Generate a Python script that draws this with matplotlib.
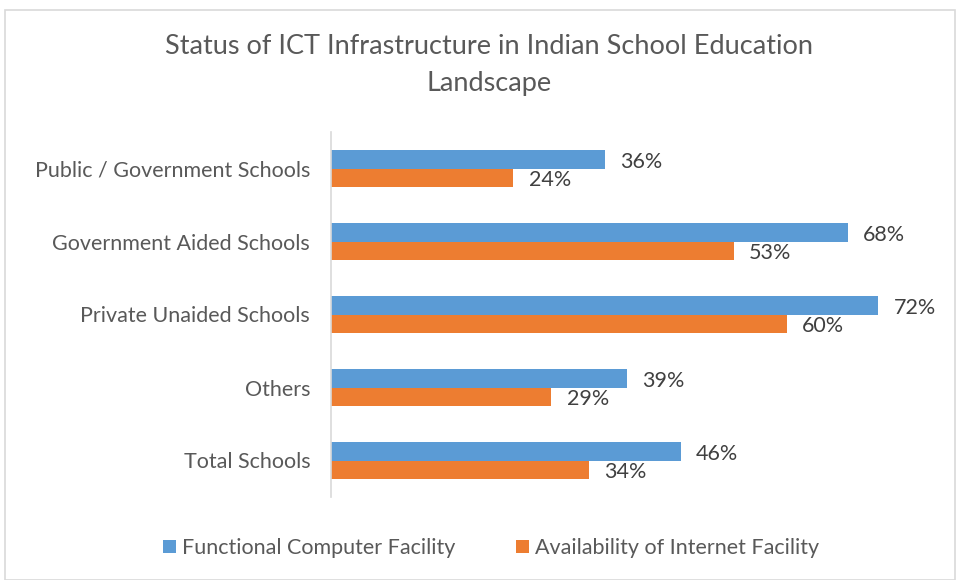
import numpy as np
import matplotlib.pyplot as plt
from matplotlib.patches import Rectangle

plt.rcParams['font.family'] = ['Lato', 'DejaVu Sans']

# Data
categories = ['Public / Government Schools', 'Government Aided Schools',
              'Private Unaided Schools', 'Others', 'Total Schools']
computer = [0.36, 0.68, 0.72, 0.39, 0.46]
internet = [0.24, 0.53, 0.60, 0.29, 0.34]
series_names = ['Functional Computer Facility', 'Availability of Internet Facility']

blue = '#5B9BD5'
orange = '#ED7D31'
text_col = '#595959'

fig = plt.figure(figsize=(9.57, 5.8), dpi=100)
ax = fig.add_axes([331 / 957, 1 - 497 / 580, 608 / 957, 365 / 580])

# outer chart border
fig.patches.append(Rectangle((5 / 957, 0), 950 / 957, 1 - 10 / 580,
                             transform=fig.transFigure, fill=False,
                             edgecolor='#D9D9D9', linewidth=1.2))

y = np.arange(len(categories))[::-1]
h = 0.25
b1 = ax.barh(y + h / 2, computer, height=h, color=blue, label=series_names[0])
b2 = ax.barh(y - h / 2, internet, height=h, color=orange, label=series_names[1])

for bars, vals in ((b1, computer), (b2, internet)):
    for bar, v in zip(bars, vals):
        ax.text(v + 0.02, bar.get_y() + bar.get_height() / 2 - 0.03,
                f'{v:.0%}', va='center', ha='left', fontsize=15.5, color='#404040')

ax.set_xlim(0, 0.8)
ax.set_ylim(-0.5, len(categories) - 0.5)
ax.set_yticks(y)
ax.set_yticklabels(categories, fontsize=15.5, color=text_col)
ax.set_xticks([])
ax.tick_params(axis='y', length=0, pad=15)
for s in ['top', 'right', 'bottom']:
    ax.spines[s].set_visible(False)
ax.spines['left'].set_color('#D9D9D9')
ax.spines['left'].set_linewidth(1.2)

fig.text(489 / 957, 1 - 65 / 580,
         'Status of ICT Infrastructure in Indian School Education\nLandscape',
         ha='center', va='center', fontsize=19.5, color=text_col, linespacing=1.55)

fig.legend(handles=[b1, b2], loc='center', bbox_to_anchor=(491 / 957, 1 - 548 / 580),
           ncol=2, frameon=False, fontsize=15.5, labelcolor=text_col,
           handlelength=0.6, handleheight=0.6, handletextpad=0.3, columnspacing=2.8)

fig.savefig('out.png', dpi=100)
